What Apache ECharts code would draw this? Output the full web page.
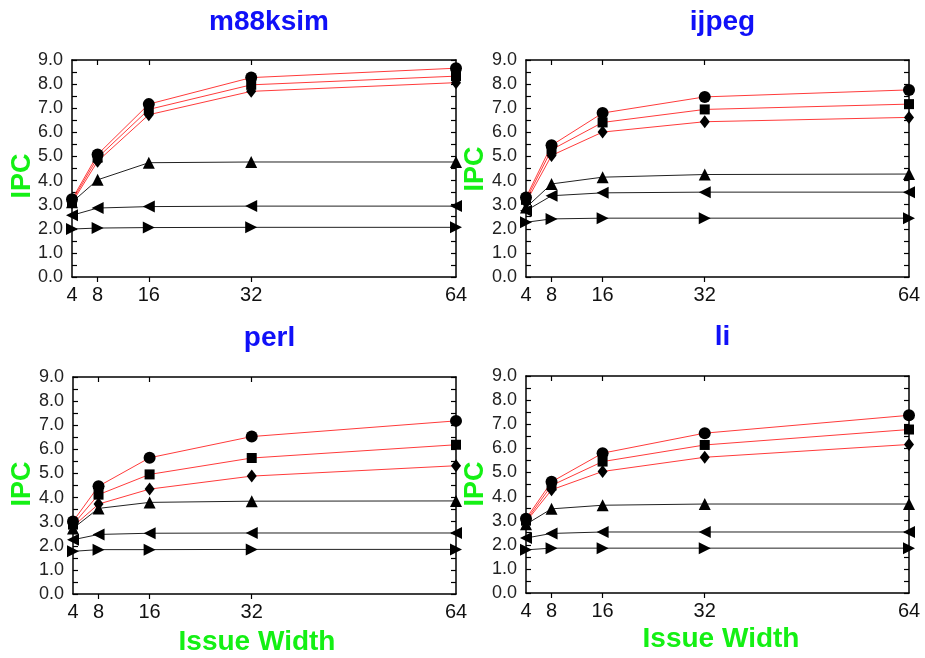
<!DOCTYPE html>
<html>
<head>
<meta charset="utf-8">
<script src="https://cdn.jsdelivr.net/npm/echarts@6/dist/echarts.min.js"></script>
<style>
html,body{margin:0;padding:0;background:#fff;}
#main{width:925px;height:658px;}
</style>
</head>
<body>
<div id="main"></div>
<script>
const issueWidths = [4, 8, 16, 32, 64];
const xTickValues = [8, 16, 32];
const yTickLabels = ['0.0','1.0','2.0','3.0','4.0','5.0','6.0','7.0','8.0','9.0'];
const benchmarks = ['m88ksim', 'ijpeg', 'perl', 'li'];

const m88ksimCircle   = [3.22, 5.08, 7.17, 8.27, 8.66];
const m88ksimSquare   = [3.15, 4.95, 6.95, 7.97, 8.33];
const m88ksimDiamond  = [3.08, 4.80, 6.73, 7.70, 8.06];
const m88ksimTriUp    = [3.10, 4.03, 4.74, 4.77, 4.77];
const m88ksimTriLeft  = [2.56, 2.86, 2.92, 2.94, 2.94];
const m88ksimTriRight = [1.99, 2.03, 2.05, 2.06, 2.06];

const ijpegCircle   = [3.30, 5.46, 6.80, 7.47, 7.76];
const ijpegSquare   = [3.20, 5.28, 6.41, 6.95, 7.17];
const ijpegDiamond  = [3.10, 5.04, 6.01, 6.44, 6.62];
const ijpegTriUp    = [2.88, 3.86, 4.14, 4.25, 4.27];
const ijpegTriLeft  = [2.75, 3.37, 3.49, 3.52, 3.52];
const ijpegTriRight = [2.27, 2.41, 2.44, 2.44, 2.44];

const perlCircle   = [3.01, 4.47, 5.65, 6.53, 7.18];
const perlSquare   = [2.88, 4.12, 4.96, 5.64, 6.19];
const perlDiamond  = [2.80, 3.73, 4.35, 4.89, 5.32];
const perlTriUp    = [2.72, 3.55, 3.80, 3.85, 3.86];
const perlTriLeft  = [2.25, 2.47, 2.52, 2.53, 2.53];
const perlTriRight = [1.77, 1.84, 1.84, 1.85, 1.85];

const liCircle   = [3.08, 4.61, 5.80, 6.63, 7.37];
const liSquare   = [3.00, 4.46, 5.45, 6.14, 6.78];
const liDiamond  = [2.95, 4.28, 5.04, 5.63, 6.16];
const liTriUp    = [2.85, 3.49, 3.64, 3.69, 3.69];
const liTriLeft  = [2.28, 2.47, 2.53, 2.53, 2.53];
const liTriRight = [1.79, 1.86, 1.86, 1.86, 1.86];

const panelData = [
  [m88ksimCircle, m88ksimSquare, m88ksimDiamond, m88ksimTriUp, m88ksimTriLeft, m88ksimTriRight],
  [ijpegCircle, ijpegSquare, ijpegDiamond, ijpegTriUp, ijpegTriLeft, ijpegTriRight],
  [perlCircle, perlSquare, perlDiamond, perlTriUp, perlTriLeft, perlTriRight],
  [liCircle, liSquare, liDiamond, liTriUp, liTriLeft, liTriRight]
];

const FONT = '"Liberation Sans", Arial, sans-serif';
const grids = [
  {left: 72, top: 60, width: 384, height: 217},
  {left: 526, top: 60, width: 383, height: 217},
  {left: 73, top: 377, width: 383, height: 217},
  {left: 526, top: 376, width: 383, height: 217}
];
const titleY = [3, 3, 319, 318];
const ipcPos = [[23, 176], [476, 169], [23, 484], [476, 484]];
const issuePos = [[257, 642], [721, 639]];
const GREEN = '#14f014';

const seriesStyles = [
  {symbol: 'circle', size: 12, rot: 0, line: '#ff3b3b'},
  {symbol: 'rect', size: 10, rot: 0, line: '#ff3b3b'},
  {symbol: 'diamond', size: [10, 13], rot: 0, line: '#ff3b3b'},
  {symbol: 'triangle', size: 12, rot: 0, line: '#222'},
  {symbol: 'triangle', size: 12, rot: 90, line: '#222'},
  {symbol: 'triangle', size: 12, rot: -90, line: '#222'}
];

const yTickVals = [];
for (let v = 0; v <= 9; v += 0.5) yTickVals.push(v);

const option = {
  backgroundColor: '#fff',
  animation: false,
  title: [],
  grid: [],
  xAxis: [],
  yAxis: [],
  series: [],
  graphic: []
};

grids.forEach((g, i) => {
  option.grid.push(g);
  option.title.push({
    text: benchmarks[i],
    left: g.left + g.width / 2,
    top: titleY[i],
    textAlign: 'center',
    textStyle: {color: '#1010f8', fontSize: 28, fontWeight: 'bold', fontFamily: FONT}
  });
  const axisLine = {show: true, onZero: false, lineStyle: {color: '#000', width: 1.5}};
  option.xAxis.push({
    type: 'value', gridIndex: i, min: 4, max: 64, position: 'bottom',
    axisLine: axisLine,
    axisTick: {show: true, customValues: xTickValues, length: 5, inside: false, lineStyle: {color: '#000', width: 1.2}},
    axisLabel: {customValues: issueWidths, color: '#111', fontSize: 20, fontFamily: FONT, margin: 8},
    splitLine: {show: false}
  });
  option.xAxis.push({
    type: 'value', gridIndex: i, min: 4, max: 64, position: 'top',
    axisLine: axisLine,
    axisTick: {show: true, customValues: xTickValues, length: 5, inside: true, lineStyle: {color: '#000', width: 1.2}},
    axisLabel: {show: false, customValues: xTickValues},
    splitLine: {show: false}
  });
  option.yAxis.push({
    type: 'value', gridIndex: i, min: 0, max: 9, interval: 1, position: 'left',
    axisLine: axisLine,
    axisTick: {show: true, customValues: yTickVals, length: 5, inside: true, lineStyle: {color: '#000', width: 1.2}},
    axisLabel: {color: '#222', fontSize: 18, fontFamily: FONT, margin: 9,
      formatter: v => yTickLabels[Math.round(v)] || ''},
    splitLine: {show: false}
  });
  option.yAxis.push({
    type: 'value', gridIndex: i, min: 0, max: 9, interval: 1, position: 'right',
    axisLine: axisLine,
    axisTick: {show: true, customValues: yTickVals, length: 5, inside: true, lineStyle: {color: '#000', width: 1.2}},
    axisLabel: {show: false},
    splitLine: {show: false}
  });

  panelData[i].forEach((vals, k) => {
    const st = seriesStyles[k];
    option.series.push({
      type: 'line',
      xAxisIndex: i * 2,
      yAxisIndex: i * 2,
      data: issueWidths.map((x, j) => [x, vals[j]]),
      symbol: st.symbol,
      symbolSize: st.size,
      symbolRotate: st.rot,
      showAllSymbol: true,
      lineStyle: {color: st.line, width: 1},
      itemStyle: {color: '#000', borderWidth: 0},
      z: k < 3 ? 3 : 2,
      emphasis: {disabled: true}
    });
  });

  option.graphic.push({
    type: 'text',
    x: ipcPos[i][0], y: ipcPos[i][1],
    rotation: Math.PI / 2,
    style: {text: 'IPC', fill: GREEN, font: 'bold 27px ' + FONT, align: 'center', verticalAlign: 'middle'}
  });
});

issuePos.forEach(p => {
  option.graphic.push({
    type: 'text', x: p[0], y: p[1],
    style: {text: 'Issue Width', fill: GREEN, font: 'bold 28px ' + FONT, align: 'center', verticalAlign: 'middle'}
  });
});

const chart = echarts.init(document.getElementById('main'), null, {renderer: 'canvas'});
chart.setOption(option);
</script>
</body>
</html>
